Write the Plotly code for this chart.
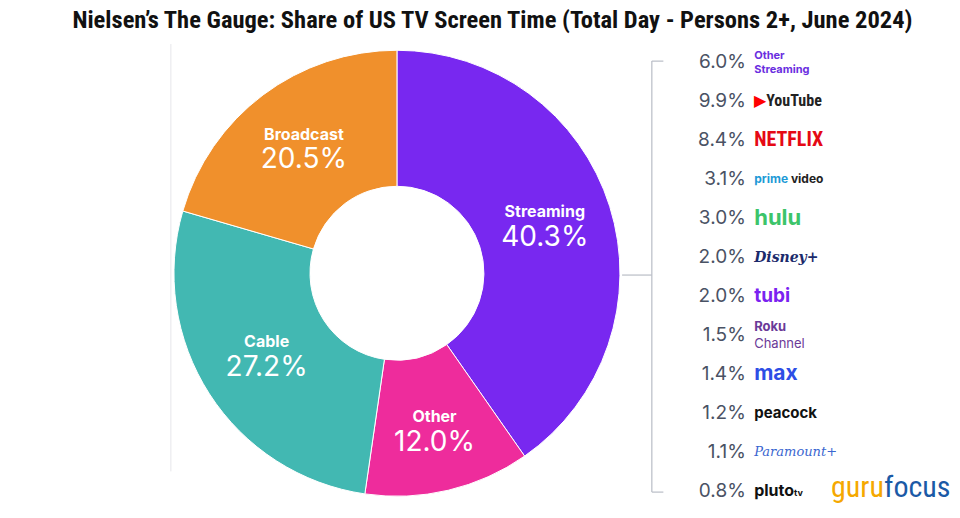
import plotly.graph_objects as go

# share of US TV screen time, June 2024
segments = ["Streaming", "Other", "Cable", "Broadcast"]
segment_shares = [40.3, 12.0, 27.2, 20.5]

# streaming breakdown (top to bottom)
services = ["Other Streaming", "YouTube", "Netflix", "Prime Video", "Hulu", "Disney+",
            "Tubi", "Roku Channel", "Max", "Peacock", "Paramount+", "Pluto TV"]
service_shares = [6.0, 9.9, 8.4, 3.1, 3.0, 2.0, 2.0, 1.5, 1.4, 1.2, 1.1, 0.8]

seg_colors = {"Streaming": "#7828F0", "Other": "#EE2C9C", "Cable": "#42B8B2", "Broadcast": "#F0902C"}

narrow = "Liberation Sans Narrow, Roboto Condensed, Arial Narrow, sans-serif"

# text "logos" for each service: (html, colour, size, font)
logo_style = {
    "Other Streaming": ("<b>Other<br>Streaming</b>", "#6a2ee0", 11, "Inter"),
    "YouTube": ("<span style='color:#ff0000'>&#9654;</span><b>YouTube</b>", "#222222", 16, narrow),
    "Netflix": ("<b>NETFLIX</b>", "#e50914", 20, narrow),
    "Prime Video": ("<span style='color:#1e9ad6'><b>prime</b></span><b> video</b>", "#222222", 12, "Inter"),
    "Hulu": ("<b>hulu</b>", "#3cc46a", 22, "Inter"),
    "Disney+": ("<i><b>Disney+</b></i>", "#1b2a6b", 14, "DejaVu Serif"),
    "Tubi": ("<b>tubi</b>", "#7a22f0", 19, "Inter"),
    "Roku Channel": ("<b>Roku</b><br>Channel", "#6b3a98", 13, "Inter"),
    "Max": ("<b>max</b>", "#2e4ee6", 21, "Inter"),
    "Peacock": ("<b>peacock</b>", "#111111", 15, "Inter"),
    "Paramount+": ("<i>Paramount+</i>", "#3a66d0", 13, "DejaVu Serif"),
    "Pluto TV": ("<b>pluto</b><span style='font-size:9px'><b>tv</b></span>", "#111111", 16, "Inter"),
}

fig = go.Figure()

fig.add_trace(go.Pie(
    labels=segments,
    values=segment_shares,
    sort=False,
    direction="clockwise",
    rotation=0,
    hole=0.39,
    marker=dict(colors=[seg_colors[s] for s in segments], line=dict(color="white", width=1)),
    texttemplate="<span style='font-size:16px'><b>%{label}</b></span><br><span style='font-size:28px'>%{value:.1f}%</span>",
    textposition="inside",
    insidetextorientation="horizontal",
    textfont=dict(family="Inter, Roboto, sans-serif", size=22, color="white"),
    domain=dict(x=[0.181, 0.646], y=[0.042, 0.903]),
    showlegend=False,
    hoverinfo="label+value",
))

fig.add_trace(go.Scatter(
    x=[0] * len(services),
    y=services,
    mode="text",
    text=[f"{v:.1f}%" for v in service_shares],
    textposition="middle left",
    textfont=dict(family="Inter, Roboto, sans-serif", size=19, color="#4a5264"),
    showlegend=False,
    hoverinfo="skip",
))

fig.add_trace(go.Scatter(
    x=[0.04] * len(services),
    y=services,
    mode="text",
    text=[logo_style[s][0] for s in services],
    textposition="middle right",
    textfont=dict(
        family=[logo_style[s][3] for s in services],
        size=[logo_style[s][2] for s in services],
        color=[logo_style[s][1] for s in services],
    ),
    showlegend=False,
    hoverinfo="skip",
))

line_col = "#b9bdc6"
fig.update_layout(
    width=960, height=518,
    margin=dict(l=0, r=0, t=0, b=0),
    paper_bgcolor="white",
    plot_bgcolor="rgba(0,0,0,0)",
    title=dict(
        text="<b>Nielsen\u2019s The Gauge: Share of US TV Screen Time (Total Day - Persons 2+, June 2024)</b>",
        x=0.513, y=0.962, xanchor="center", yanchor="middle",
        font=dict(family=narrow, size=24.5, color="#111"),
    ),
    xaxis=dict(domain=[0.5625, 1.0], range=[-0.98, 1.02], visible=False, fixedrange=True),
    yaxis=dict(domain=[0.0125, 0.916], type="category", range=[11.5, -0.5], visible=False, fixedrange=True),
    shapes=[
        # faint left rule
        dict(type="line", xref="paper", yref="paper", x0=0.178, x1=0.178, y0=0.09, y1=0.915,
             line=dict(color="#e6e6ea", width=1)),
        # connector and bracket
        dict(type="line", xref="paper", yref="paper", x0=0.648, x1=0.679, y0=0.469, y1=0.469,
             line=dict(color=line_col, width=1.2)),
        dict(type="line", xref="paper", yref="paper", x0=0.679, x1=0.679, y0=0.05, y1=0.882,
             line=dict(color=line_col, width=1.2)),
        dict(type="line", xref="paper", yref="paper", x0=0.679, x1=0.691, y0=0.882, y1=0.882,
             line=dict(color=line_col, width=1.2)),
        dict(type="line", xref="paper", yref="paper", x0=0.679, x1=0.691, y0=0.05, y1=0.05,
             line=dict(color=line_col, width=1.2)),
    ],
    annotations=[
        dict(text="<span style='color:#f5a800'>guru</span><span style='color:#1b5aa6'>focus</span>",
             xref="paper", yref="paper", x=0.993, y=0.06, xanchor="right", yanchor="middle",
             showarrow=False, font=dict(family=narrow, size=30)),
    ],
)

# the page body has a default 8px margin; drop it so the figure fills the window
fig.write_html("out.html", config={"displayModeBar": False},
               post_script="document.body.style.margin='0';")
